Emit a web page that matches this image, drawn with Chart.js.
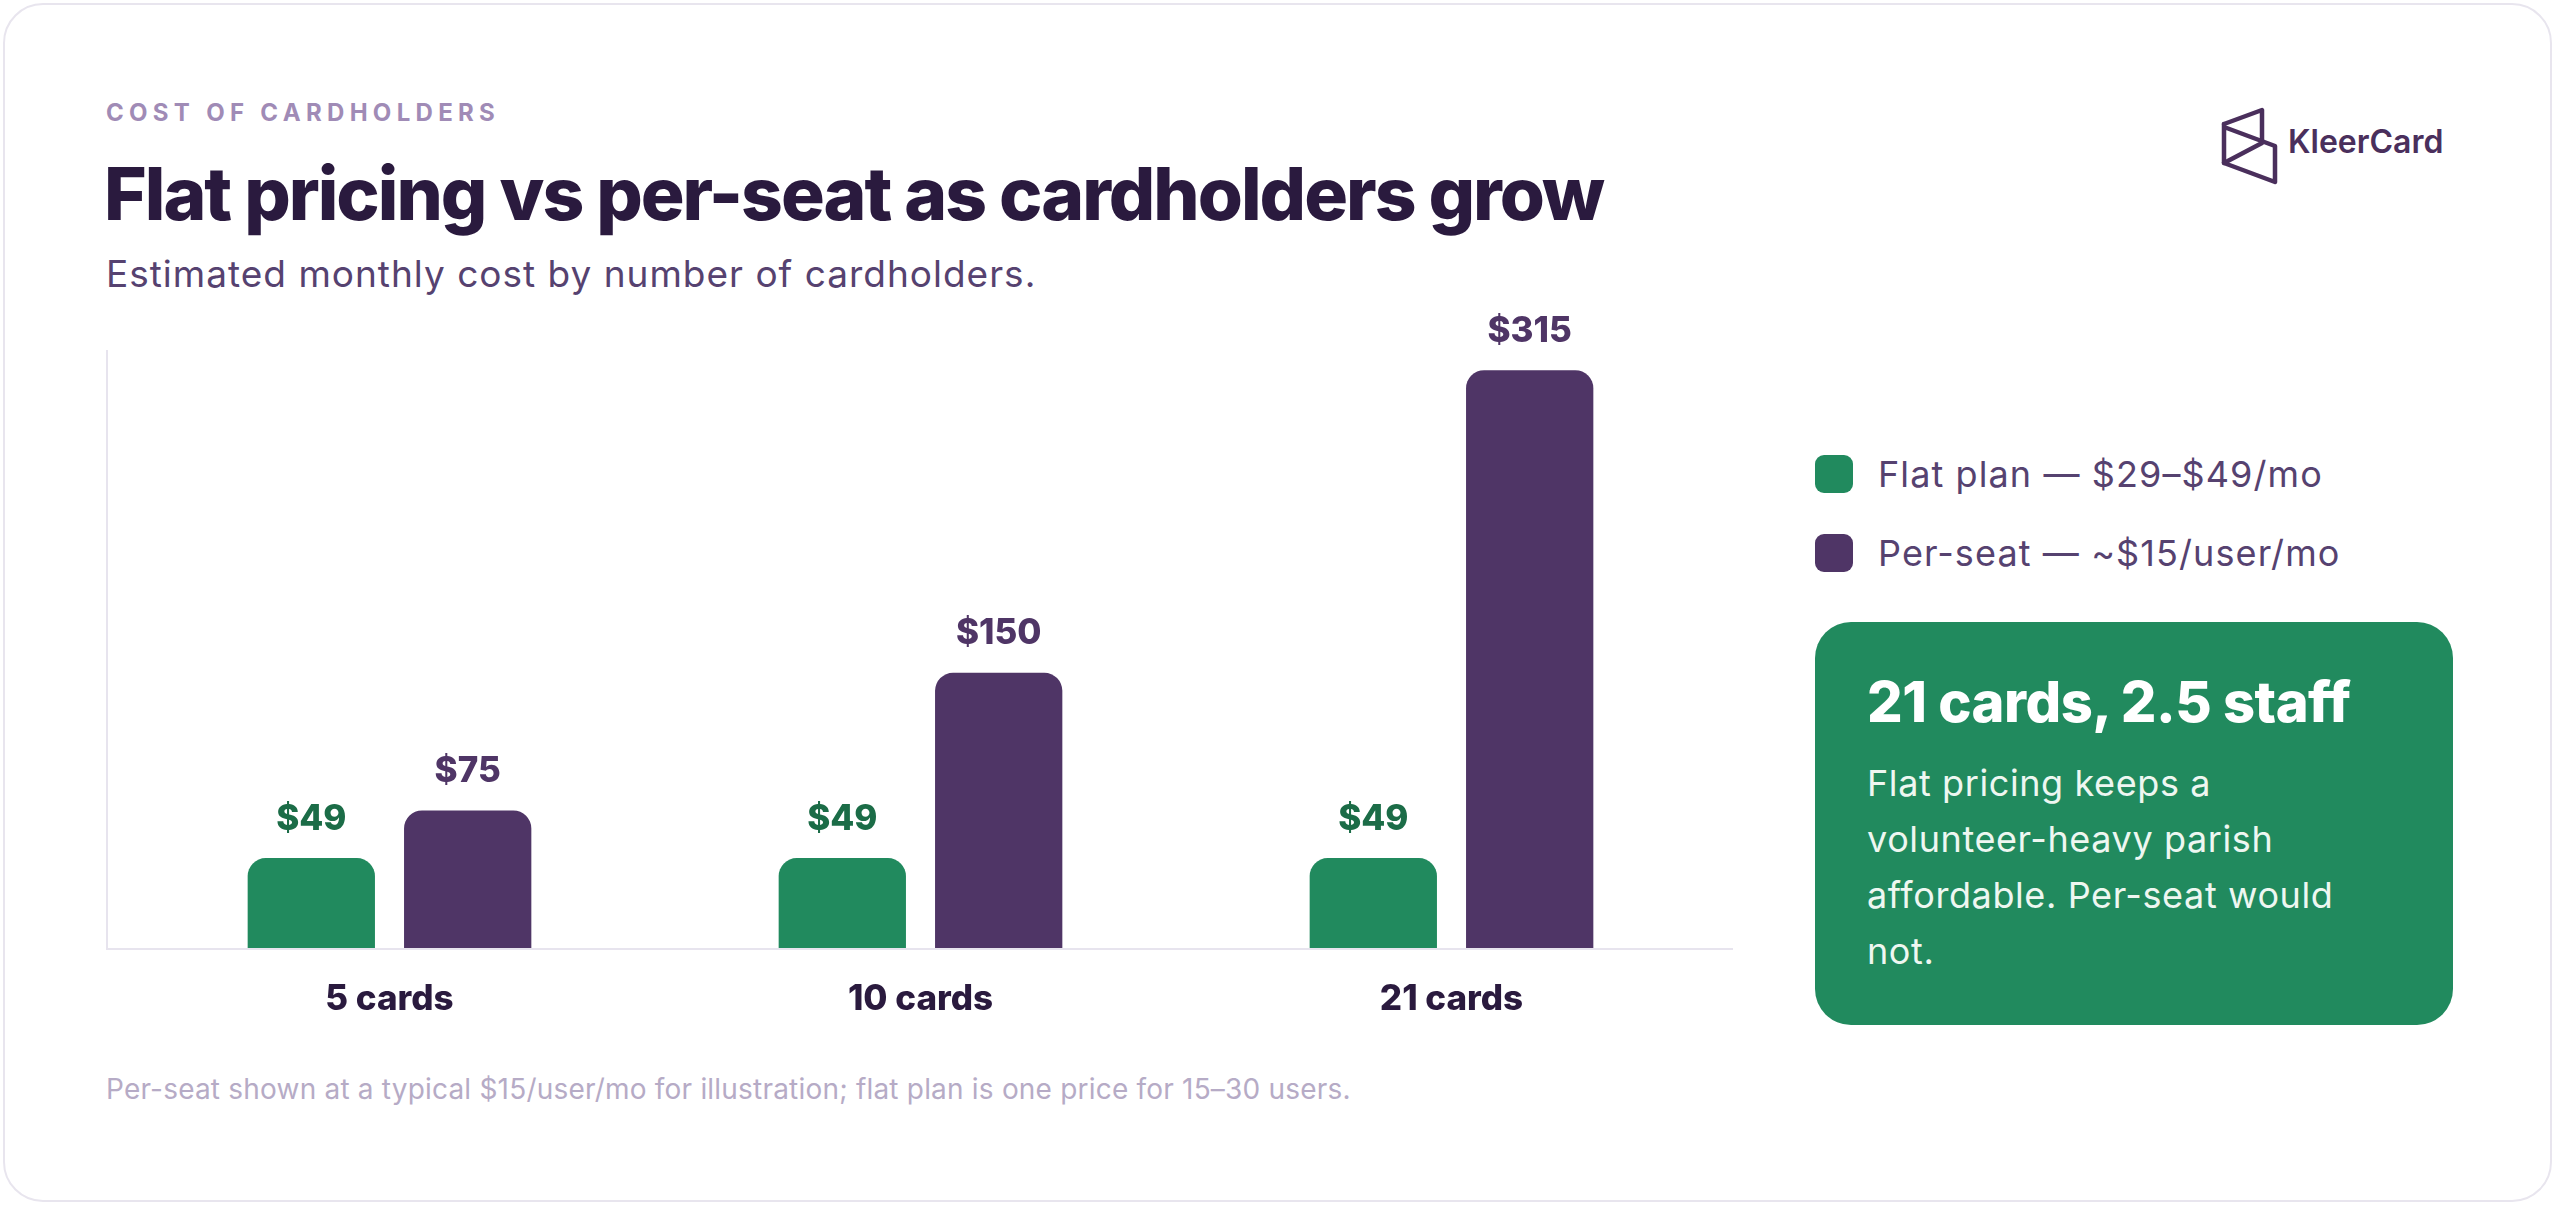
<!DOCTYPE html>
<html>
<head>
<meta charset="utf-8">
<script src="https://cdn.jsdelivr.net/npm/chart.js@4.4.1/dist/chart.umd.min.js"></script>
<style>
  html, body { margin: 0; padding: 0; background: #ffffff; }
  body { width: 2559px; height: 1209px; position: relative; overflow: hidden; font-family: Inter, "Noto Sans", sans-serif; }
  .card { position: absolute; left: 3px; top: 3px; width: 2549px; height: 1199px; border: 2px solid #e8e5ee; border-radius: 40px; box-sizing: border-box; }
  .abs { position: absolute; line-height: 1; white-space: nowrap; }
  .eyebrow { left: 106px; top: 101px; font-size: 24px; font-weight: 700; letter-spacing: 5.3px; color: #a08bb6; }
  .title { left: 104px; top: 157px; font-size: 73px; font-weight: 800; letter-spacing: -2px; color: #2a1a3e; }
  .subtitle { left: 106px; top: 255px; font-size: 37px; font-weight: 400; letter-spacing: 1px; color: #564270; }
  .logo-text { left: 2288px; top: 126px; font-size: 32px; font-weight: 600; color: #4a2f5c; }
  .legend-item { left: 1815px; height: 38px; }
  .legend-swatch { position: absolute; left: 0; top: 0; width: 38px; height: 38px; border-radius: 9px; }
  .legend-label { position: absolute; left: 63px; top: 1px; font-size: 36px; letter-spacing: 1.1px; color: #564270; line-height: 1; }
  .callout { position: absolute; left: 1815px; top: 622px; width: 638px; height: 403px; border-radius: 36px; background: #218a5e; }
  .callout h2 { position: absolute; left: 52px; top: 52px; margin: 0; font-size: 56px; font-weight: 800; letter-spacing: -0.5px; color: #ffffff; line-height: 1; white-space: nowrap; }
  .callout p { position: absolute; left: 52px; top: 133px; margin: 0; font-size: 36px; letter-spacing: 0.6px; line-height: 56px; color: #eef7f1; white-space: nowrap; }
  .footnote { left: 106px; top: 1075px; font-size: 28px; letter-spacing: 0.2px; color: #b6abc6; }
  #chart { position: absolute; left: 0; top: 300px; }
</style>
</head>
<body>
<div class="card"></div>
<div class="abs eyebrow">COST OF CARDHOLDERS</div>
<div class="abs title">Flat pricing vs per-seat as cardholders grow</div>
<div class="abs subtitle">Estimated monthly cost by number of cardholders.</div>

<svg class="abs" style="left:2212px;top:102px" width="72" height="90" viewBox="2212 102 72 90">
  <g fill="none" stroke="#4a2f5c" stroke-width="4.5" stroke-linejoin="round" stroke-linecap="round">
    <path d="M2224,124 L2262,110 L2262,141"/>
    <path d="M2224,124 L2224,163 L2275,182 L2275,146 L2224,127"/>
    <path d="M2224,163 L2262,143"/>
  </g>
</svg>
<div class="abs logo-text">KleerCard</div>

<div id="legend"></div>

<div class="callout">
  <h2>21 cards, 2.5 staff</h2>
  <p>Flat pricing keeps a<br>volunteer-heavy parish<br>affordable. Per-seat would<br>not.</p>
</div>

<div class="abs footnote">Per-seat shown at a typical $15/user/mo for illustration; flat plan is one price for 15–30 users.</div>

<canvas id="chart" width="1800" height="760"></canvas>

<script>
// Chart data
const categories = ['5 cards', '10 cards', '21 cards'];
const flatCost = [49, 49, 49];
const perSeatCost = [75, 150, 315];
const seriesNames = ['Flat plan — $29–$49/mo', 'Per-seat — ~$15/user/mo'];
const seriesColors = ['#218a5e', '#4f3566'];
const labelColors = ['#1b6c47', '#4f3566'];

document.addEventListener('DOMContentLoaded', function() {
    buildLegend();
    drawChart();
});

function buildLegend() {
    const tops = [455, 534];
    const html = seriesNames.map((name, i) => `
        <div class="abs legend-item" style="top:${tops[i]}px">
            <div class="legend-swatch" style="background:${seriesColors[i]}"></div>
            <div class="legend-label">${name}</div>
        </div>
    `).join('');
    document.getElementById('legend').innerHTML = html;
}

// axis lines + value labels above bars
const decorPlugin = {
    id: 'decor',
    afterDatasetsDraw(chart) {
        const ctx = chart.ctx;
        const area = chart.chartArea;
        ctx.save();
        ctx.strokeStyle = '#e7e4ee';
        ctx.lineWidth = 2;
        ctx.beginPath();
        ctx.moveTo(area.left - 17, area.top);
        ctx.lineTo(area.left - 17, area.bottom + 2);
        ctx.moveTo(area.left - 18, area.bottom + 1);
        ctx.lineTo(area.right + 16, area.bottom + 1);
        ctx.stroke();

        ctx.font = '800 35px Inter';
        ctx.textAlign = 'center';
        ctx.textBaseline = 'middle';
        chart.data.datasets.forEach((ds, di) => {
            ctx.fillStyle = labelColors[di];
            chart.getDatasetMeta(di).data.forEach((bar, i) => {
                ctx.fillText('$' + ds.data[i], bar.x, bar.y - 39);
            });
        });
        ctx.restore();
    }
};

function drawChart() {
    if (typeof Chart === 'undefined') return;

    new Chart(document.getElementById('chart'), {
        type: 'bar',
        data: {
            labels: categories,
            datasets: [{
                label: seriesNames[0],
                data: flatCost,
                backgroundColor: seriesColors[0],
                borderRadius: 18,
                borderSkipped: 'bottom'
            }, {
                label: seriesNames[1],
                data: perSeatCost,
                backgroundColor: seriesColors[1],
                borderRadius: 18,
                borderSkipped: 'bottom'
            }]
        },
        options: {
            responsive: false,
            animation: false,
            devicePixelRatio: 1,
            layout: { padding: { left: 124, right: 83, top: 50, bottom: 10 } },
            datasets: { bar: { barPercentage: 0.814, categoryPercentage: 0.589 } },
            plugins: { legend: { display: false }, tooltip: { enabled: false } },
            scales: {
                x: {
                    grid: { display: false, drawTicks: false },
                    border: { display: false },
                    ticks: { color: '#2a1a3e', font: { family: 'Inter', size: 35, weight: '800' }, padding: 30 }
                },
                y: { display: false, min: 0, max: 326 }
            }
        },
        plugins: [decorPlugin]
    });
}
</script>
</body>
</html>
